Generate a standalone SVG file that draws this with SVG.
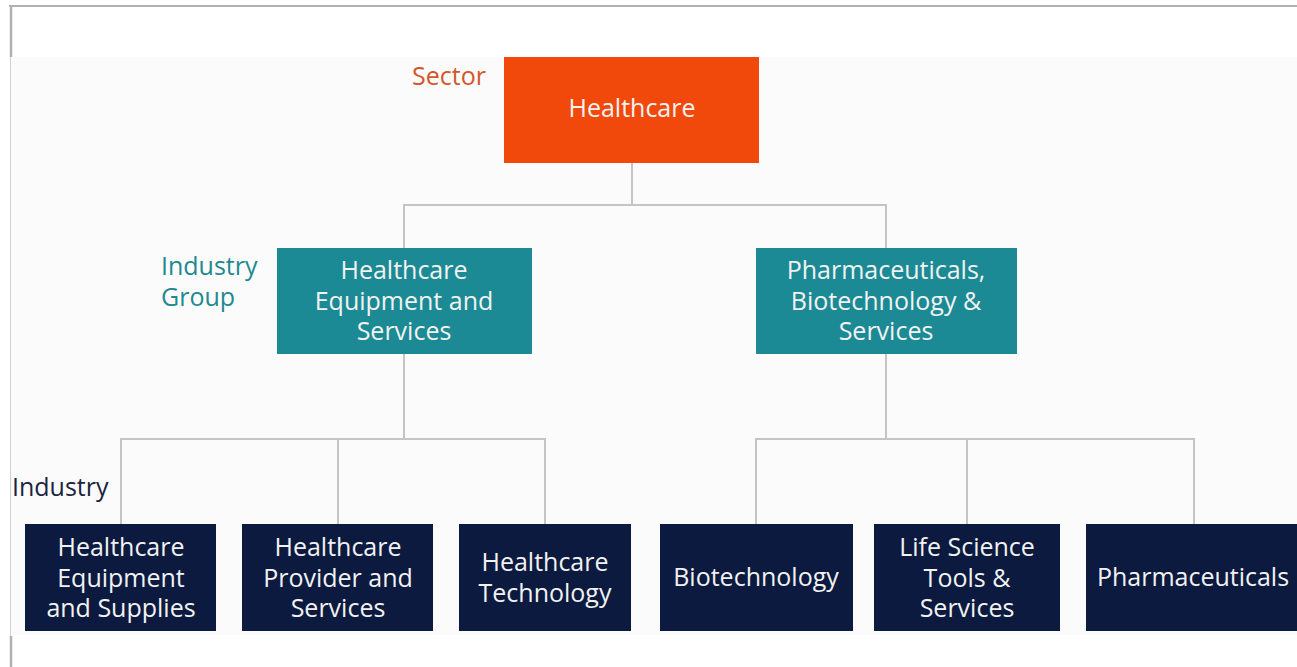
<svg xmlns="http://www.w3.org/2000/svg" width="1297" height="667" viewBox="0 0 1297 667">
<style>
text{font-family:"Open Sans","Noto Sans","Liberation Sans",sans-serif;font-size:25px}
.bt{fill:#f2f2f2;text-anchor:middle}
.conn{stroke:#c4c4c4;stroke-width:2;fill:none}
.sector{fill:#f1490b}
.group{fill:#1b8a94}
.ind{fill:#0b1a3e}
</style>
<rect width="1297" height="667" fill="#ffffff"/>
<rect x="10" y="57" width="1287" height="578" fill="#fbfbfb"/>
<line x1="9" y1="6" x2="1297" y2="6" stroke="#b3b0b0" stroke-width="2"/>
<line x1="11" y1="5" x2="11" y2="57" stroke="#b3b0b0" stroke-width="2.5"/>
<line x1="10.5" y1="57" x2="10.5" y2="636" stroke="#d0d0d0" stroke-width="1"/>
<line x1="11" y1="636" x2="11" y2="667" stroke="#b3b0b0" stroke-width="2.5"/>

<text x="412" y="85" fill="#d4562a">Sector</text>
<text x="161" y="275" fill="#1e8990">Industry</text>
<text x="161" y="306" fill="#1e8990">Group</text>
<text x="12" y="496" fill="#1a2440">Industry</text>

<g id="connectors">
<path class="conn" d="M632 163V205M404 248V205H886V248"/>
<path class="conn" d="M404 354V439M121 524V439H545V524M338 439V524"/>
<path class="conn" d="M886 354V439M756 524V439H1194V524M967 439V524"/>
</g>

<g id="healthcare">
<rect class="sector" x="504" y="57" width="255" height="106"/>
<text class="bt" x="632" y="117">Healthcare</text>
</g>
<g id="hc-equip-services">
<rect class="group" x="277" y="248" width="255" height="106"/>
<text class="bt" x="404" y="279">Healthcare</text>
<text class="bt" x="404" y="310">Equipment and</text>
<text class="bt" x="404" y="340">Services</text>
</g>
<g id="pharma-biotech">
<rect class="group" x="756" y="248" width="261" height="106"/>
<text class="bt" x="886" y="279">Pharmaceuticals,</text>
<text class="bt" x="886" y="310">Biotechnology &amp;</text>
<text class="bt" x="886" y="340">Services</text>
</g>
<g id="hc-equip-supplies">
<rect class="ind" x="25" y="524" width="191" height="107"/>
<text class="bt" x="121" y="556">Healthcare</text>
<text class="bt" x="121" y="587">Equipment</text>
<text class="bt" x="121" y="617">and Supplies</text>
</g>
<g id="hc-provider">
<rect class="ind" x="242" y="524" width="191" height="107"/>
<text class="bt" x="338" y="556">Healthcare</text>
<text class="bt" x="338" y="587">Provider and</text>
<text class="bt" x="338" y="617">Services</text>
</g>
<g id="hc-tech">
<rect class="ind" x="459" y="524" width="172" height="107"/>
<text class="bt" x="545" y="571">Healthcare</text>
<text class="bt" x="545" y="602">Technology</text>
</g>
<g id="biotech">
<rect class="ind" x="660" y="524" width="193" height="107"/>
<text class="bt" x="756" y="586">Biotechnology</text>
</g>
<g id="life-science">
<rect class="ind" x="874" y="524" width="186" height="107"/>
<text class="bt" x="967" y="556">Life Science</text>
<text class="bt" x="967" y="587">Tools &amp;</text>
<text class="bt" x="967" y="617">Services</text>
</g>
<g id="pharma">
<rect class="ind" x="1086" y="524" width="211" height="107"/>
<text class="bt" x="1193" y="586">Pharmaceuticals</text>
</g>
</svg>
